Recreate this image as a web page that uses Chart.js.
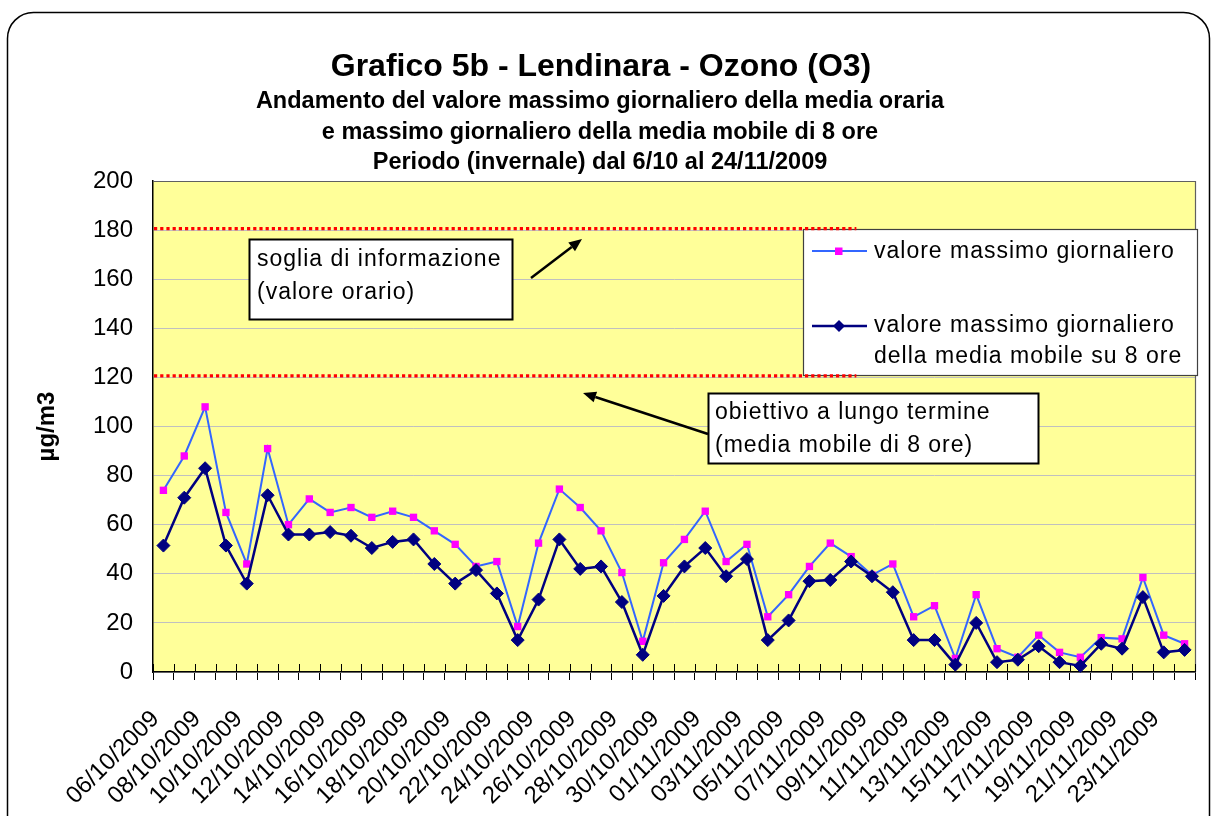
<!DOCTYPE html>
<html><head><meta charset="utf-8">
<script src="https://cdn.jsdelivr.net/npm/chart.js@4"></script>
<style>html,body{margin:0;padding:0;background:#fff;overflow:hidden}#wrap{width:1211px;height:816px;position:relative}canvas{display:block}</style>
</head><body><div id="wrap"><canvas id="c" width="1211" height="816"></canvas></div>
<script>
const categories = ['06/10/2009','07/10/2009','08/10/2009','09/10/2009','10/10/2009','11/10/2009','12/10/2009','13/10/2009','14/10/2009','15/10/2009',
'16/10/2009','17/10/2009','18/10/2009','19/10/2009','20/10/2009','21/10/2009','22/10/2009','23/10/2009','24/10/2009','25/10/2009',
'26/10/2009','27/10/2009','28/10/2009','29/10/2009','30/10/2009','31/10/2009','01/11/2009','02/11/2009','03/11/2009','04/11/2009',
'05/11/2009','06/11/2009','07/11/2009','08/11/2009','09/11/2009','10/11/2009','11/11/2009','12/11/2009','13/11/2009','14/11/2009',
'15/11/2009','16/11/2009','17/11/2009','18/11/2009','19/11/2009','20/11/2009','21/11/2009','22/11/2009','23/11/2009','24/11/2009'];
const xTickLabels = ['06/10/2009','08/10/2009','10/10/2009','12/10/2009','14/10/2009','16/10/2009','18/10/2009','20/10/2009','22/10/2009','24/10/2009',
'26/10/2009','28/10/2009','30/10/2009','01/11/2009','03/11/2009','05/11/2009','07/11/2009','09/11/2009','11/11/2009','13/11/2009',
'15/11/2009','17/11/2009','19/11/2009','21/11/2009','23/11/2009'];
const maxHourly = [74,88,108,65,44,91,60,70.5,65,67,63,65.5,63,57.5,52,43,45,18.5,52.5,74.5,67,57.5,40.5,12.5,44.5,54,65.5,45,52,22.5,31.5,43,52.5,47,39.5,44,22.5,27,5.5,31.5,9.5,6,15,8,6,14,13.5,38.5,15,11.5];
const max8h = [51.5,71,83,51.5,36,72,56,56,57,55.5,50.5,53,54,44,36,41.5,32,13,29.5,54,42,43,28.5,7,31,43,50.5,39,46,13,21,37,37.5,45,39,32.5,13,13,3,20,4,5,10.5,4,2.5,11.5,9.5,30.5,8,9];
const yTicks = [0,20,40,60,80,100,120,140,160,180,200];
const thresholds = [180, 120];
const seriesNames = [['valore massimo giornaliero'], ['valore massimo giornaliero','della media mobile su 8 ore']];
const titleText = 'Grafico 5b - Lendinara - Ozono (O3)';
const subtitleLines = ['Andamento del valore massimo giornaliero della media oraria','e massimo giornaliero della media mobile di 8 ore','Periodo (invernale) dal 6/10 al 24/11/2009'];
const note1 = ['soglia di informazione','(valore orario)'];
const note2 = ['obiettivo a lungo termine','(media mobile di 8 ore)'];
const yTitle = 'µg/m3';

const FONT = '"Liberation Sans", Arial, sans-serif';

function arrow(ctx, x1, y1, x2, y2){
  ctx.save();
  ctx.strokeStyle='#000'; ctx.fillStyle='#000'; ctx.lineWidth=2.5;
  const ang=Math.atan2(y2-y1,x2-x1), L=13, W=5.5;
  const bx=x2-L*Math.cos(ang), by=y2-L*Math.sin(ang);
  ctx.beginPath(); ctx.moveTo(x1,y1); ctx.lineTo(bx,by); ctx.stroke();
  ctx.beginPath(); ctx.moveTo(x2,y2);
  ctx.lineTo(bx+W*Math.sin(ang), by-W*Math.cos(ang));
  ctx.lineTo(bx-W*Math.sin(ang), by+W*Math.cos(ang));
  ctx.closePath(); ctx.fill();
  ctx.restore();
}
function textBox(ctx, x, y, w, h, lines, tx, baselines){
  ctx.save();
  ctx.fillStyle='#fff'; ctx.fillRect(x,y,w,h);
  ctx.strokeStyle='#000'; ctx.lineWidth=2; ctx.strokeRect(x,y,w,h);
  ctx.fillStyle='#000'; ctx.font='23px '+FONT; ctx.textAlign='left'; ctx.textBaseline='alphabetic';
  if ('letterSpacing' in ctx) ctx.letterSpacing='1px';
  lines.forEach((t,i)=>ctx.fillText(t, tx, baselines[i]));
  ctx.restore();
}

const deco = {
  id:'deco',
  beforeDraw(chart){
    const ctx=chart.ctx, a=chart.chartArea;
    ctx.save();
    ctx.fillStyle='#fff'; ctx.fillRect(0,0,chart.width,chart.height);
    const x=7.5,y=12.5,w=1202,h=900,r=26;
    ctx.beginPath();
    ctx.moveTo(x+r,y); ctx.lineTo(x+w-r,y); ctx.arcTo(x+w,y,x+w,y+r,r);
    ctx.lineTo(x+w,y+h); ctx.lineTo(x,y+h); ctx.lineTo(x,y+r); ctx.arcTo(x,y,x+r,y,r); ctx.closePath();
    ctx.lineWidth=1.5; ctx.strokeStyle='#000'; ctx.stroke();
    ctx.fillStyle='#FFFF99'; ctx.fillRect(a.left,a.top,a.right-a.left,a.bottom-a.top);
    ctx.restore();
  },
  beforeDatasetsDraw(chart){
    const ctx=chart.ctx, a=chart.chartArea, xs=chart.scales.x;
    ctx.save();
    ctx.strokeStyle='#606060'; ctx.lineWidth=1.2;
    ctx.beginPath(); ctx.moveTo(a.left,a.top+0.5); ctx.lineTo(a.right+0.5,a.top+0.5); ctx.lineTo(a.right+0.5,a.bottom); ctx.stroke();
    ctx.strokeStyle='#000'; ctx.lineWidth=1;
    for(let i=0;i<=categories.length;i++){
      const px=Math.round(xs.getPixelForValue(i-0.5))+0.5;
      ctx.beginPath(); ctx.moveTo(px,a.bottom-8); ctx.lineTo(px,a.bottom); ctx.stroke();
    }
    ctx.restore();
  },
  afterDatasetsDraw(chart){
    const ctx=chart.ctx, a=chart.chartArea, xs=chart.scales.x, ys=chart.scales.y;
    textBox(ctx,249.5,239.5,263,80,note1,257,[266,299]);
    arrow(ctx,531,278,582,239);
    textBox(ctx,708.5,393.5,330,70,note2,715,[419,452]);
    arrow(ctx,708,434,583,393);
    // legend
    ctx.save();
    ctx.fillStyle='#fff'; ctx.fillRect(803,229,394,147);
    ctx.strokeStyle='#404040'; ctx.lineWidth=1.2; ctx.strokeRect(803.5,229.5,394,146);
    const ds=chart.data.datasets;
    ctx.strokeStyle=ds[1].borderColor; ctx.lineWidth=2;
    ctx.beginPath(); ctx.moveTo(812,251); ctx.lineTo(867,251); ctx.stroke();
    ctx.fillStyle=ds[1].pointBackgroundColor; ctx.fillRect(835,247.5,7.5,7.5);
    ctx.strokeStyle=ds[0].borderColor; ctx.lineWidth=2.5;
    ctx.beginPath(); ctx.moveTo(812,326); ctx.lineTo(867,326); ctx.stroke();
    ctx.fillStyle=ds[0].pointBackgroundColor;
    ctx.beginPath(); ctx.moveTo(839,320); ctx.lineTo(845,326); ctx.lineTo(839,332); ctx.lineTo(833,326); ctx.closePath(); ctx.fill();
    ctx.fillStyle='#000'; ctx.font='23px '+FONT; ctx.textAlign='left'; ctx.textBaseline='alphabetic';
    if ('letterSpacing' in ctx) ctx.letterSpacing='1px';
    ctx.fillText(seriesNames[0][0],874,258);
    ctx.fillText(seriesNames[1][0],874,332);
    ctx.fillText(seriesNames[1][1],874,363);
    ctx.restore();
    // threshold dotted lines (on top of legend edge)
    ctx.save();
    ctx.strokeStyle='#FF0000'; ctx.lineWidth=3.2; ctx.setLineDash([3.2,3]);
    const xEnd = xs.getPixelForValue(33.25);
    thresholds.forEach(v=>{
      const py=ys.getPixelForValue(v)-1.5;
      ctx.beginPath(); ctx.moveTo(a.left+1,py); ctx.lineTo(xEnd,py); ctx.stroke();
    });
    ctx.restore();
  },
  afterDraw(chart){
    const ctx=chart.ctx;
    ctx.save();
    ctx.fillStyle='#000'; ctx.textAlign='center'; ctx.textBaseline='alphabetic';
    ctx.font='bold 32px '+FONT;
    ctx.fillText(titleText,601,76);
    ctx.font='bold 23.5px '+FONT;
    const bl=[108,139,169];
    subtitleLines.forEach((t,i)=>ctx.fillText(t,600,bl[i]));
    ctx.restore();
  }
};

new Chart(document.getElementById('c'), {
  type:'line',
  data:{
    labels:categories,
    datasets:[
      {label:seriesNames[1].join(' '), data:max8h, borderColor:'#000080', borderWidth:2.5, pointStyle:'rectRot', pointRadius:6.5,
       pointBackgroundColor:'#000080', pointBorderColor:'#000080', pointBorderWidth:1, order:0, tension:0, clip:false},
      {label:seriesNames[0][0], data:maxHourly, borderColor:'#3366FF', borderWidth:2, pointStyle:'rect', pointRadius:5.2,
       pointBackgroundColor:'#FF00FF', pointBorderColor:'#FF00FF', pointBorderWidth:0, order:1, tension:0, clip:false}
    ]
  },
  options:{
    responsive:false, animation:false, devicePixelRatio:1,
    layout:{padding:{top:181,right:16,left:0,bottom:0}},
    plugins:{legend:{display:false}, tooltip:{enabled:false}, title:{display:false}},
    scales:{
      x:{
        type:'category', offset:true,
        grid:{display:true, offset:true, drawOnChartArea:false, drawTicks:true, tickLength:8, color:'#000', lineWidth:1},
        border:{display:true, color:'#000', width:1.5},
        ticks:{autoSkip:false, maxRotation:45, minRotation:45, padding:25, labelOffset:-8, color:'#000',
          font:{family:FONT, size:24},
          callback:function(v,i){const c=categories[i]; return xTickLabels.includes(c)?c:'';}},
        afterFit(s){s.height=144; s.paddingLeft=0; s.paddingRight=0;}
      },
      y:{
        min:yTicks[0], max:yTicks[yTicks.length-1],
        afterBuildTicks(s){s.ticks=yTicks.map(v=>({value:v}));},
        ticks:{color:'#000', padding:20, font:{family:FONT, size:24}},
        grid:{color:'#C0C0C0', lineWidth:1, drawTicks:false},
        border:{display:true, color:'#000', width:1.5},
        title:{display:true, text:yTitle, color:'#000', font:{family:FONT, size:24, weight:'bold'}, padding:{top:33,bottom:0}},
        afterFit(s){s.width=153; s.paddingTop=0; s.paddingBottom=0;}
      }
    }
  },
  plugins:[deco]
});
</script>
</body></html>
